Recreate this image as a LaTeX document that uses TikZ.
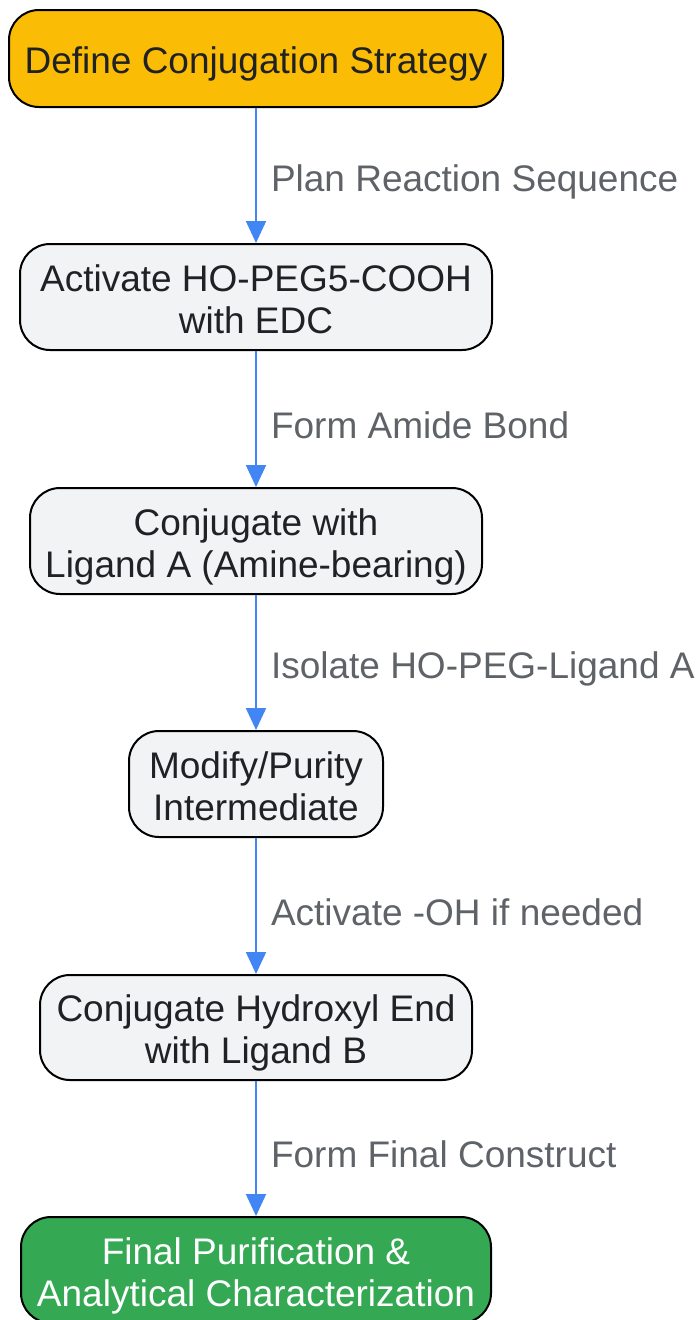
\documentclass[tikz,border=0pt]{standalone}
\usepackage{fontspec}
\setmainfont{Liberation Sans}
\usetikzlibrary{arrows.meta}
\definecolor{cyellow}{HTML}{FBBC05}
\definecolor{cgray}{HTML}{F1F3F4}
\definecolor{cgreen}{HTML}{34A853}
\definecolor{cblue}{HTML}{4285F4}
\definecolor{ctext}{HTML}{202124}
\definecolor{clabel}{HTML}{5F6368}
\newcommand{\lns}[1]{\raisebox{-7pt}[\height][\depth]{\begin{tabular}{@{}c@{}}#1\end{tabular}}}
\tikzset{
  box/.style={draw=black, line width=2pt, rounded corners=30pt,
    inner sep=0pt, text=ctext, font=\fontsize{37}{42}\selectfont, fill=cgray},
  arr/.style={draw=cblue, line width=2pt, -{Triangle[length=22pt,width=20pt]}},
  lbl/.style={anchor=west, xshift=14pt, text=clabel, inner sep=0pt,
    font=\fontsize{37}{42}\selectfont}
}
\begin{document}
\begin{tikzpicture}[x=1pt,y=-1pt]
\useasboundingbox (0,0) rectangle (700,1320);
\node[box, fill=cyellow, minimum width=494pt, minimum height=97pt] (n1) at (256,58.5) {\lns{Define Conjugation Strategy}};
\node[box, minimum width=472pt, minimum height=106pt] (n2) at (256,297) {\lns{Activate HO-PEG5-COOH\\with EDC}};
\node[box, minimum width=452pt, minimum height=106pt] (n3) at (256,541) {\lns{Conjugate with\\Ligand A (Amine-bearing)}};
\node[box, minimum width=254pt, minimum height=106pt] (n4) at (256,784) {\lns{Modify/Purity\\Intermediate}};
\node[box, minimum width=432pt, minimum height=105pt] (n5) at (256,1027.5) {\lns{Conjugate Hydroxyl End\\with Ligand B}};
\node[box, fill=cgreen, text=white, minimum width=470pt, minimum height=106pt] (n6) at (256,1270) {\lns{Final Purification \&\\Analytical Characterization}};
\draw[arr] (n1) -- node[lbl, yshift=-6pt]{Plan Reaction Sequence} (n2);
\draw[arr] (n2) -- node[lbl, yshift=-6pt]{Form Amide Bond} (n3);
\draw[arr] (n3) -- node[lbl, yshift=-6pt]{Isolate HO-PEG-Ligand A} (n4);
\draw[arr] (n4) -- node[lbl, yshift=-6pt]{Activate -OH if needed} (n5);
\draw[arr] (n5) -- node[lbl, yshift=-6pt]{Form Final Construct} (n6);
\end{tikzpicture}
\end{document}
